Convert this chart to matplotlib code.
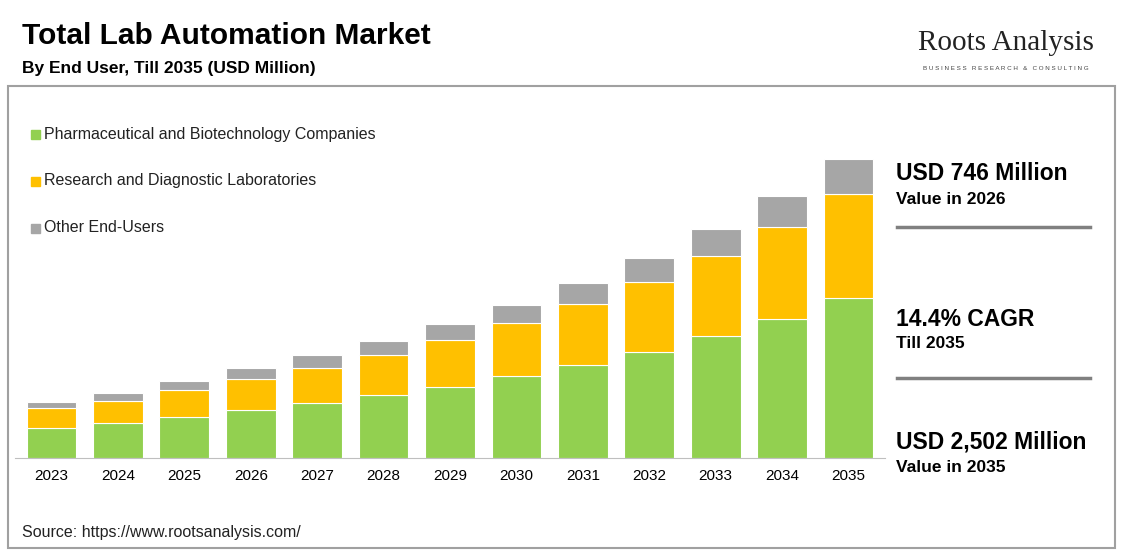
import matplotlib
matplotlib.use("Agg")
import matplotlib.pyplot as plt
from matplotlib.patches import Rectangle
from matplotlib.lines import Line2D

years = ["2023","2024","2025","2026","2027","2028","2029","2030","2031","2032","2033","2034","2035"]
pharma = [251, 293, 343, 402, 460, 527, 594, 686, 778, 887, 1021, 1163, 1339]
research = [167, 184, 226, 259, 293, 335, 393, 444, 511, 586, 670, 770, 870]
other = [50, 67, 75, 92, 109, 117, 134, 151, 176, 201, 226, 259, 293]
labels = ["Pharmaceutical and Biotechnology Companies", "Research and Diagnostic Laboratories", "Other End-Users"]
colors = ["#92d050", "#ffc000", "#a6a6a6"]

W, H = 1123, 553
fig = plt.figure(figsize=(W/100, H/100), dpi=100)
fig.patch.set_facecolor("white")
plt.rcParams['font.family'] = ['Liberation Sans', 'DejaVu Sans']

def fx(x): return x / W
def fy(y): return 1 - y / H

fig.add_artist(Rectangle((fx(8), fy(548)), fx(1107), (548-86)/H, transform=fig.transFigure,
                         fill=False, edgecolor="#a0a0a0", lw=1.5))

fig.text(fx(22), fy(36), "Total Lab Automation Market", fontsize=21.5, fontweight="heavy", va="center")
fig.text(fx(22), fy(69), "By End User, Till 2035 (USD Million)", fontsize=12.5, fontweight="bold", va="center")
fig.text(fx(1006), fy(43), "Roots Analysis", fontsize=21, family="Liberation Serif", ha="center", va="center", color="#222222")
fig.text(fx(1006), fy(69), "B U S I N E S S   R E S E A R C H   &   C O N S U L T I N G", fontsize=4.5, ha="center", va="center", color="#444444")

ax = fig.add_axes([fx(15), fy(458), fx(870), (458-150)/H])
x = range(len(years))
b1 = [p + r for p, r in zip(pharma, research)]
ax.bar(x, pharma, width=0.75, color=colors[0], edgecolor="white", lw=0.8)
ax.bar(x, research, width=0.75, bottom=pharma, color=colors[1], edgecolor="white", lw=0.8)
ax.bar(x, other, width=0.75, bottom=b1, color=colors[2], edgecolor="white", lw=0.8)
ax.set_xlim(-0.55, len(years) - 0.45)
ax.set_ylim(0, 2575)
ax.set_xticks(list(x))
ax.set_xticklabels(years, fontsize=11)
ax.tick_params(axis="x", length=0, pad=8)
ax.set_yticks([])
for s in ["top", "right", "left"]:
    ax.spines[s].set_visible(False)
ax.spines["bottom"].set_color("#bfbfbf")

for i, (lab, c) in enumerate(zip(labels, colors)):
    y = 134 + i * 47
    fig.add_artist(Rectangle((fx(31), fy(y + 5)), fx(9), 9/H, transform=fig.transFigure, color=c))
    fig.text(fx(44), fy(y), lab, fontsize=11.5, va="center", color="#222222")

def right(y1, t1, y2, t2):
    fig.text(fx(896), fy(y1), t1, fontsize=16.5, fontweight="bold", va="center")
    fig.text(fx(896), fy(y2), t2, fontsize=12.5, fontweight="bold", va="center")
right(174, "USD 746 Million", 199, "Value in 2026")
right(320, "14.4% CAGR", 344, "Till 2035")
right(442, "USD 2,502 Million", 467, "Value in 2035")
for yy in (227, 378):
    fig.add_artist(Line2D([fx(897), fx(1090)], [fy(yy), fy(yy)], transform=fig.transFigure, color="#808080", lw=2.5))

fig.text(fx(22), fy(532), "Source: https://www.rootsanalysis.com/", fontsize=11.5, va="center", color="#222222")
fig.savefig("out.png", dpi=100)
